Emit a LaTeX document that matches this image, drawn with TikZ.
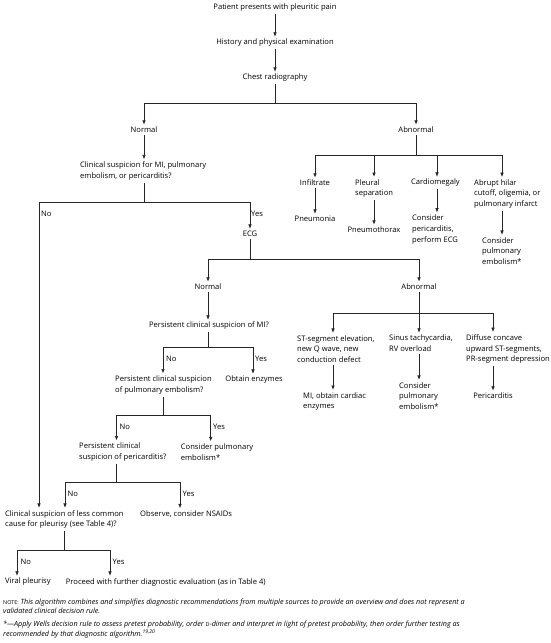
\documentclass[tikz,border=0pt]{standalone}
\usepackage{fontspec}
\setmainfont{Open Sans}
\usetikzlibrary{arrows.meta}
\newcommand\chartfont{\fontsize{7.6}{10.8}\selectfont}
\newcommand\notefont{\fontsize{7.2}{9.4}\selectfont}
\newcommand\tinycaps[1]{{\upshape\fontsize{5.4}{6}\selectfont #1}}
\tikzset {
  flow path/.style = {
    draw = black!85,
    line width = 0.65pt
  },
  % path style with an arrow at the end
  arr/.style = {
    flow path,
    -{Latex[length=4.4pt,width=3.6pt]}
  },
  % path style with no arrows
  narr/.style = {
    flow path
  }
}
\tikzset {
  flow node/.style = {
    inner xsep = 0pt,
    inner ysep = 2.2pt,
    font = \chartfont,
    text = black
  },
  % centred text
  ctr/.style = {
    flow node,
    align = center
  },
  % left aligned text block
  lft/.style = {
    flow node,
    align = left,
    anchor = west
  },
  % branch label
  yesno/.style = {
    flow node,
    anchor = west
  },
  % footnotes
  note/.style = {
    lft,
    font = \notefont\itshape
  }
}
\begin{document}
\begin{tikzpicture}[x=1pt,y=-1pt]
    \path[use as bounding box] (0,0) rectangle (550,643);

    \node[ctr] (patient) at (275,8) {Patient presents with pleuritic pain};
    \node[ctr] (history) at (275,43) {History and physical examination};
    \node[ctr] (chest) at (275,78) {Chest radiography};
    \coordinate (chest-split) at (275,103);
    \node[ctr] (normA) at (144,130) {Normal};
    \node[ctr] (abnA) at (416,130) {Abnormal};

    \draw[arr] (patient) -- (history);
    \draw[arr] (history) -- (chest);
    \draw[narr] (chest) -- (chest-split);
    \draw[arr] (chest-split) -| (normA);
    \draw[arr] (chest-split) -| (abnA);

    % normal radiograph
    \node[lft] (suspA) at (80,171) {Clinical suspicion for MI, pulmonary\\embolism, or pericarditis?};
    \coordinate (suspA-split) at (144,202);
    \node[ctr] (ecg) at (250,234) {ECG};
    \node[lft] (lesscommon) at (5,519.5) {Clinical suspicion of less common\\cause for pleurisy (see Table 4)?};
    \node[yesno] (noA) at (41,214) {No};
    \node[yesno] (yesA) at (251,214) {Yes};

    \draw[arr] (normA) -- (normA |- suspA.north);
    \draw[narr] (suspA.south -| suspA-split) -- (suspA-split);
    \draw[arr] (suspA-split) -| ([xshift=34pt]lesscommon.north west);
    \draw[arr] (suspA-split) -| (ecg);

    \coordinate (ecg-split) at (250,259);
    \node[ctr] (normB) at (208,287) {Normal};
    \node[ctr] (abnB) at (419,287) {Abnormal};
    \draw[narr] (ecg) -- (ecg-split);
    \draw[arr] (ecg-split) -| (normB);
    \draw[arr] (ecg-split) -| (abnB);

    % normal ECG
    \node[ctr] (persMI) at (209,326) {Persistent clinical suspicion of MI?};
    \coordinate (persMI-split) at (208,347);
    \node[lft] (persPE) at (115,385) {Persistent clinical suspicion\\of pulmonary embolism?};
    \node[ctr] (enzymes) at (254,380) {Obtain enzymes};
    \node[yesno] (noB) at (166,359) {No};
    \node[yesno] (yesB) at (255,359) {Yes};

    \draw[arr] (normB) -- (normB |- persMI.north);
    \draw[narr] (persMI.south -| persMI-split) -- (persMI-split);
    \draw[arr] (persMI-split) -| ([xshift=48pt]persPE.north west);
    \draw[arr] (persMI-split) -| ([xshift=-1pt]enzymes.north);

    \coordinate (persPE-split) at (163,415);
    \node[lft] (persPeri) at (79,452) {Persistent clinical\\suspicion of pericarditis?};
    \node[lft] (considerPE) at (180.7,452) {Consider pulmonary\\embolism*};
    \node[yesno] (noC) at (119.5,427) {No};
    \node[yesno] (yesC) at (213,427) {Yes};

    \draw[narr] (persPE.south -| persPE-split) -- (persPE-split);
    \draw[arr] (persPE-split) -| ([xshift=37.5pt]persPeri.north west);
    \draw[arr] (persPE-split) -| ([xshift=30pt]considerPE.north west);

    \coordinate (persPeri-split) at (116,482.7);
    \node[lft] (observe) at (140,514) {Observe, consider NSAIDs};
    \node[yesno] (noD) at (67.5,494) {No};
    \node[yesno] (yesD) at (182.5,494) {Yes};

    \draw[narr] (persPeri.south -| persPeri-split) -- (persPeri-split);
    \draw[arr] (persPeri-split) -| ([xshift=60pt]lesscommon.north west);
    \draw[arr] (persPeri-split) -| ([xshift=40pt]observe.north west);

    \coordinate (lesscommon-split) at (64,550.7);
    \node[lft] (viral) at (5,582) {Viral pleurisy};
    \node[lft] (proceed) at (65.7,582) {Proceed with further diagnostic evaluation (as in Table 4)};
    \node[yesno] (noE) at (20.5,562) {No};
    \node[yesno] (yesE) at (112.5,562) {Yes};

    \draw[narr] (lesscommon.south -| lesscommon-split) -- (lesscommon-split);
    \draw[arr] (lesscommon-split) -| ([xshift=12pt]viral.north west);
    \draw[arr] (lesscommon-split) -| ([xshift=44.3pt]proceed.north west);

    % abnormal radiograph
    \coordinate (abnA-split) at (416,155);
    \node[ctr] (infiltrate) at (315,183) {Infiltrate};
    \node[lft] (pleural) at (355,188.5) {Pleural\\separation};
    \node[lft] (cardio) at (411,183) {Cardiomegaly};
    \node[lft] (hilar) at (474,194) {Abrupt hilar\\cutoff, oligemia, or\\pulmonary infarct};
    \node[ctr] (pneumonia) at (315,219) {Pneumonia};
    \node[ctr] (pneumothorax) at (374,230) {Pneumothorax};
    \node[lft] (consPeri) at (412,229.5) {Consider\\pericarditis,\\perform ECG};
    \node[lft] (consPE-A) at (482,251) {Consider\\pulmonary\\embolism*};

    \draw[narr] (abnA) -- (abnA-split);
    \draw[arr] (abnA-split) -| (infiltrate);
    \draw[arr] (abnA-split) -| ([xshift=19pt]pleural.north west);
    \draw[arr] (abnA-split) -| ([xshift=26pt]cardio.north west);
    \draw[arr] (abnA-split) -| ([xshift=28pt]hilar.north west);
    \draw[arr] (infiltrate) -- (pneumonia);
    \draw[arr] (pleural.south -| pneumothorax) -- (pneumothorax);
    \draw[arr] ([xshift=26pt]cardio.south west) -- ([xshift=26pt]cardio.south west |- consPeri.north);
    \draw[arr] ([xshift=28pt]hilar.south west) -- ([xshift=28pt]hilar.south west |- consPE-A.north);

    % abnormal ECG
    \coordinate (abnB-split) at (419,313);
    \node[lft] (stseg) at (297,349) {ST-segment elevation,\\new Q wave, new\\conduction defect};
    \node[lft] (sinus) at (389,343.5) {Sinus tachycardia,\\RV overload};
    \node[lft] (diffuse) at (466,349) {Diffuse concave\\upward ST-segments,\\PR-segment depression};
    \node[lft] (miEnz) at (303,401.5) {MI, obtain cardiac\\enzymes};
    \node[lft] (consPE-B) at (399,396) {Consider\\pulmonary\\embolism*};
    \node[ctr] (pericarditis) at (493,396) {Pericarditis};

    \draw[narr] (abnB) -- (abnB-split);
    \draw[arr] (abnB-split) -| ([xshift=36pt]stseg.north west);
    \draw[arr] (abnB-split) -| ([xshift=30pt]sinus.north west);
    \draw[arr] (abnB-split) -| ([xshift=27pt]diffuse.north west);
    \draw[arr] ([xshift=36pt]stseg.south west) -- ([xshift=36pt]stseg.south west |- miEnz.north);
    \draw[arr] ([xshift=30pt]sinus.south west) -- ([xshift=30pt]sinus.south west |- consPE-B.north);
    \draw[arr] (diffuse.south west -| pericarditis) -- (pericarditis);

    % notes
    \node[note] (note) at (3,606.5) {\tinycaps{NOTE:} This algorithm combines and simplifies diagnostic recommendations from multiple sources to provide an overview and does not represent a\\validated clinical decision rule.};
    \node[note] (asterisk) at (3,629.5) {*---Apply Wells decision rule to assess pretest probability, order \tinycaps{D}-dimer and interpret in light of pretest probability, then order further testing as\\recommended by that diagnostic algorithm.\textsuperscript{19,20}};
\end{tikzpicture}
\end{document}
